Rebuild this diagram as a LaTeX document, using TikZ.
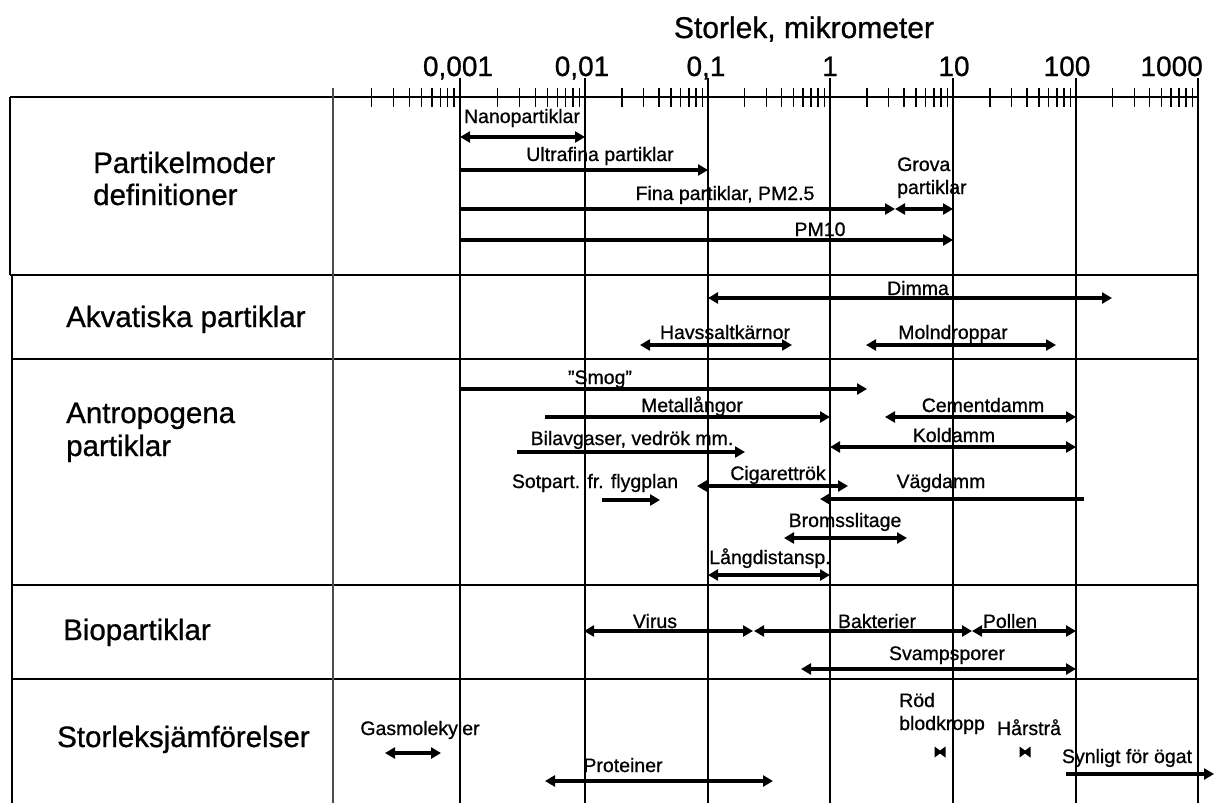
\documentclass[tikz,border=0pt]{standalone}
\usepackage{fontspec}
\setmainfont{Liberation Sans}
\newfontfamily\txtfont{Liberation Sans}[FakeBold=0.8]
\usetikzlibrary{arrows.meta}
\begin{document}
\begin{tikzpicture}[x=1pt,y=-1pt,
  big/.style={font=\txtfont\fontsize{29.5}{33}\selectfont, anchor=base west, inner sep=0},
  dec/.style={font=\txtfont\fontsize{28}{30}\selectfont, anchor=base, inner sep=0},
  lbl/.style={font=\txtfont\fontsize{19.5}{22}\selectfont, anchor=base, inner sep=0},
  lbll/.style={font=\txtfont\fontsize{19.5}{22}\selectfont, anchor=base west, inner sep=0},
  hline/.style={line width=2pt},
  vline/.style={line width=1.4pt},
  tick/.style={line width=1.4pt},
  rng/.style={line width=3.2pt, arrows={Triangle[length=10pt,width=11pt]-Triangle[length=10pt,width=11pt]}},
  rngr/.style={line width=3.2pt, arrows={-Triangle[length=10pt,width=11pt]}},
  rngl/.style={line width=3.2pt, arrows={Triangle[length=10pt,width=11pt]-}},
  bowtie/.style={fill=black}]
\useasboundingbox (0,0) rectangle (1214,803);

% title and decade labels
\node[font=\txtfont\fontsize{30}{32}\selectfont, anchor=base, inner sep=0] (title) at (804,38) {Storlek, mikrometer};
\node[dec] (d1) at (458,76) {0,001};
\node[dec] (d2) at (582,76) {0,01};
\node[dec] (d3) at (706,76) {0,1};
\node[dec] (d4) at (830,76) {1};
\node[dec] (d5) at (954,76) {10};
\node[dec] (d6) at (1067,76) {100};
\node[dec, anchor=base east] (d7) at (1203,76) {1000};

% table frame
\draw[line width=2.6pt] (10,97) -- (1198,97);
\draw[hline] (10,275) -- (1198,275);
\draw[hline] (10,97) -- (10,275);
\draw[hline] (12,275) -- (12,803);
\draw[hline] (12,359) -- (1198,359);
\draw[hline] (12,585) -- (1198,585);
\draw[hline] (12,679) -- (1198,679);

% grid lines
\draw[vline, black!70] (333,88) -- (333,803);
\foreach \x in {460,585,708,830,953,1076,1198}
  \draw[vline] (\x,78) -- (\x,803);
% minor ticks
\foreach \a/\b in {333/460,460/585,585/708,708/830,830/953,953/1076,1076/1198}
  \foreach \k in {2,...,9}
    \draw[tick] ({\a+(\b-\a)*log10(\k)},88) -- ++(0,19);

% row labels
\node[big] (r1a) at (93,173) {Partikelmoder};
\node[big] (r1b) at (93,205) {definitioner};
\node[big] (r2) at (66,327) {Akvatiska partiklar};
\node[big] (r3a) at (66,423) {Antropogena};
\node[big] (r3b) at (66,456) {partiklar};
\node[big] (r4) at (63,640) {Biopartiklar};
\node[big] (r5) at (57,747) {Storleksjämförelser};

% row 1
\node[lbl] (nano) at (522,123) {Nanopartiklar};
\draw[rng] (460,137) -- (585,137);
\node[lbl] (ultra) at (600,161) {Ultrafina partiklar};
\draw[rngr] (460,170) -- (708,170);
\node[lbl] (fina) at (725,200) {Fina partiklar, PM2.5};
\draw[rngr] (460,209) -- (895,209);
\node[lbll] (grova1) at (897,171) {Grova};
\node[lbll] (grova2) at (897,194) {partiklar};
\draw[rng] (895,209) -- (953,209);
\node[lbl] (pm10) at (820,236) {PM10};
\draw[rngr] (460,240) -- (953,240);

% row 2
\node[lbl] (dimma) at (918,295) {Dimma};
\draw[rng] (708,298) -- (1112,298);
\node[lbl] (havs) at (725,339) {Havssaltkärnor};
\draw[rng] (640,345) -- (792,345);
\node[lbl] (moln) at (953,339) {Molndroppar};
\draw[rng] (866,345) -- (1056,345);

% row 3
\node[lbl] (smog) at (600,384) {”Smog”};
\draw[rngr] (460,389) -- (867,389);
\node[lbl] (metall) at (692,412) {Metallångor};
\draw[rngr] (545,417) -- (830,417);
\node[lbl] (cement) at (983,412) {Cementdamm};
\draw[rng] (885,417) -- (1076,417);
\node[lbl] (bil) at (632,445) {Bilavgaser, vedrök mm.};
\draw[rngr] (517,452) -- (745,452);
\node[lbl] (kol) at (954,442) {Koldamm};
\draw[rng] (830,447) -- (1076,447);
\node[lbl] (sot) at (595,488) {Sotpart. fr. flygplan};
\draw[rngr] (602,500) -- (660,500);
\node[lbl] (cig) at (778,480) {Cigarettrök};
\draw[rng] (697,486) -- (848,486);
\node[lbl] (vag) at (941,488) {Vägdamm};
\draw[rngl] (820,499) -- (1084,499);
\node[lbl] (broms) at (845,527) {Bromsslitage};
\draw[rng] (784,538) -- (907,538);
\node[lbl] (lang) at (770,564) {Långdistansp.};
\draw[rng] (708,575) -- (830,575);

% row 4
\node[lbl] (virus) at (655,628) {Virus};
\draw[rng] (584,631) -- (753,631);
\node[lbl] (bakt) at (877,628) {Bakterier};
\draw[rng] (754,631) -- (972,631);
\node[lbl] (pollen) at (1010,628) {Pollen};
\draw[rng] (972,631) -- (1076,631);
\node[lbl] (svamp) at (947,660) {Svampsporer};
\draw[rng] (801,669) -- (1076,669);

% row 5
\node[lbl] (gas) at (420,735) {Gasmolekyler};
\draw[rng] (385,753) -- (441,753);
\node[lbl] (prot) at (623,772) {Proteiner};
\draw[rng] (545,781) -- (773,781);
\node[lbll] (rod1) at (899,707) {Röd};
\node[lbll] (rod2) at (899,730) {blodkropp};
\fill[bowtie] (934.5,746.5) -- (940,750.5) -- (945.5,746.5) -- (945.5,757.5) -- (940,753.5) -- (934.5,757.5) -- cycle;
\node[lbl] (har) at (1029,735) {Hårstrå};
\fill[bowtie] (1019.5,746.5) -- (1025,750.5) -- (1030.5,746.5) -- (1030.5,757.5) -- (1025,753.5) -- (1019.5,757.5) -- cycle;
\node[lbl] (syn) at (1127,763) {Synligt för ögat};
\draw[rngr] (1066,774) -- (1214,774);
\end{tikzpicture}
\end{document}
